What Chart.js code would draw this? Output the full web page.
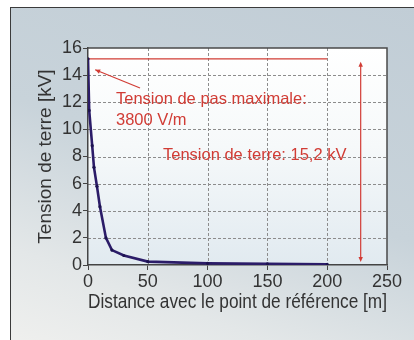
<!DOCTYPE html>
<html lang="fr">
<head>
<meta charset="utf-8">
<script src="https://cdn.jsdelivr.net/npm/chart.js@4.4.1/dist/chart.umd.min.js"></script>
<style>
  html, body { margin: 0; background: #fff; }
  #wrap { position: relative; width: 414px; height: 340px; overflow: hidden; }
  /* framed card behind the chart */
  #panel {
    position: absolute; left: 10px; top: 7px; width: 420px; height: 350px;
    border-left: 1.5px solid #3b3b3b; border-top: 1.5px solid #3b3b3b;
    background: linear-gradient(200deg, #c1cdd6 0%, #c8d3da 48%, #e3e7e8 78%, #f1f1ef 100%);
  }
  canvas { position: absolute; left: 0; top: 0; }
</style>
</head>
<body>
<div id="wrap">
  <div id="panel"></div>
  <canvas id="chart" width="414" height="340"></canvas>
</div>
<script>
/* ── data ─────────────────────────────────────────────────────────── */
const DISTANCE_M = [0, 1, 3.5, 5, 7.5, 10, 15, 20, 30, 50, 100, 150, 200];
const EARTH_KV   = [15.2, 11.4, 8.8, 7.2, 5.8, 4.3, 2.0, 1.1, 0.7, 0.25, 0.12, 0.08, 0.05];
const X_TICKS = [0, 50, 100, 150, 200, 250];
const Y_TICKS = [0, 2, 4, 6, 8, 10, 12, 14, 16];

const MAX_KV = 15.2;         // earth potential at the reference point
const STEP_V_PER_M = 3800;   // max step voltage
const REF_LINE_END_M = 200;  // horizontal 15,2 kV line runs to here
const SPAN_ARROW_M = 228;    // position of the double arrow

const RED = "#d13c35";
const INK = "#333";
const FONT = "'Liberation Sans', Arial, Helvetica, sans-serif";

/* ── helpers ──────────────────────────────────────────────────────── */
function arrowHead(ctx, tipX, tipY, fromX, fromY, len, half) {
  const a = Math.atan2(tipY - fromY, tipX - fromX);
  ctx.beginPath();
  ctx.moveTo(tipX, tipY);
  ctx.lineTo(tipX - len * Math.cos(a) + half * Math.sin(a), tipY - len * Math.sin(a) - half * Math.cos(a));
  ctx.lineTo(tipX - len * Math.cos(a) - half * Math.sin(a), tipY - len * Math.sin(a) + half * Math.cos(a));
  ctx.closePath();
  ctx.fill();
}

/* plot background (white fading to pale blue) with dashed grid */
const plotBg = {
  id: "plotBg",
  beforeDraw(chart) {
    const { ctx, chartArea: a, scales: { x, y } } = chart;
    const g = ctx.createLinearGradient(0, a.top, 0, a.bottom);
    g.addColorStop(0, "#ffffff");
    g.addColorStop(0.45, "#f6f9fa");
    g.addColorStop(1, "#e1eaf0");
    ctx.save();
    ctx.fillStyle = g;
    ctx.fillRect(a.left, a.top, a.right - a.left, a.bottom - a.top);

    ctx.strokeStyle = "#8c8c8c";
    ctx.lineWidth = 1;
    ctx.setLineDash([3, 2]);
    ctx.beginPath();
    x.ticks.forEach((t) => {
      if (t.value <= x.min || t.value >= x.max) return;
      const px = Math.round(x.getPixelForValue(t.value)) + 0.5;
      ctx.moveTo(px, a.top);
      ctx.lineTo(px, a.bottom);
    });
    y.ticks.forEach((t) => {
      if (t.value <= y.min || t.value >= y.max) return;
      const py = Math.round(y.getPixelForValue(t.value)) + 0.5;
      ctx.moveTo(a.left, py);
      ctx.lineTo(a.right, py);
    });
    ctx.stroke();
    ctx.restore();
  },
};

/* frame on top/right plus the red notes */
const notes = {
  id: "notes",
  afterDraw(chart) {
    const { ctx, chartArea: a, scales: { x, y } } = chart;
    ctx.save();

    ctx.strokeStyle = "#4a4a4a";
    ctx.lineWidth = 1.5;
    ctx.beginPath();
    ctx.moveTo(a.left, a.top);
    ctx.lineTo(a.right, a.top);
    ctx.lineTo(a.right, a.bottom);
    ctx.stroke();

    ctx.strokeStyle = RED;
    ctx.fillStyle = RED;
    ctx.lineWidth = 1.2;

    // double arrow spanning 0 … 15,2 kV
    const ax = x.getPixelForValue(SPAN_ARROW_M);
    const top = y.getPixelForValue(MAX_KV) + 3;
    const bot = y.getPixelForValue(0) - 3;
    ctx.beginPath();
    ctx.moveTo(ax, top + 4);
    ctx.lineTo(ax, bot - 4);
    ctx.stroke();
    arrowHead(ctx, ax, top, ax, bot, 5, 2.2);
    arrowHead(ctx, ax, bot, ax, top, 5, 2.2);

    // pointer from the step-voltage note to the steep start of the curve
    const tipX = x.getPixelForValue(6), tipY = y.getPixelForValue(14.4);
    const tailX = x.getPixelForValue(43.5), tailY = y.getPixelForValue(13.05);
    ctx.beginPath();
    ctx.moveTo(tailX, tailY);
    ctx.lineTo(tipX, tipY);
    ctx.stroke();
    arrowHead(ctx, tipX, tipY, tailX, tailY, 5, 2.2);

    ctx.font = "16.5px " + FONT;
    ctx.textAlign = "left";
    ctx.textBaseline = "alphabetic";
    ctx.fillText("Tension de pas maximale:", x.getPixelForValue(23.4), y.getPixelForValue(11.87));
    ctx.fillText(STEP_V_PER_M + " V/m", x.getPixelForValue(23.4), y.getPixelForValue(10.32));
    ctx.fillText("Tension de terre: " + String(MAX_KV).replace(".", ",") + " kV",
      x.getPixelForValue(62.7), y.getPixelForValue(7.74));

    ctx.restore();
  },
};

/* ── chart ────────────────────────────────────────────────────────── */
new Chart(document.getElementById("chart"), {
  type: "line",
  data: {
    datasets: [
      {
        label: "Tension de terre",
        data: DISTANCE_M.map((d, i) => ({ x: d, y: EARTH_KV[i] })),
        borderColor: "#2b1c68",
        borderWidth: 2.6,
        pointRadius: 1.6,
        pointBackgroundColor: "#1c1250",
        pointBorderWidth: 0,
        tension: 0,
        order: 0,
      },
      {
        label: "15,2 kV",
        data: [{ x: 0, y: MAX_KV }, { x: REF_LINE_END_M, y: MAX_KV }],
        borderColor: RED,
        borderWidth: 1.3,
        pointRadius: 0,
        order: 1,
      },
    ],
  },
  options: {
    responsive: false,
    animation: false,
    devicePixelRatio: 1,
    layout: { padding: { top: 48, right: 27, left: 0, bottom: 0 } },
    plugins: { legend: { display: false }, tooltip: { enabled: false } },
    scales: {
      x: {
        type: "linear",
        min: 0,
        max: 250,
        afterBuildTicks: (s) => { s.ticks = X_TICKS.map((v) => ({ value: v })); },
        afterFit: (s) => { s.height = 75; },
        ticks: { color: INK, font: { family: FONT, size: 18 }, padding: 1, maxRotation: 0, autoSkip: false },
        grid: { drawOnChartArea: false, color: "#444", tickLength: 5, lineWidth: 1 },
        border: { color: "#444", width: 1.5 },
        title: {
          display: true,
          text: "Distance avec le point de référence [m]",
          color: INK,
          font: { family: FONT, size: 19.3 },
          padding: { top: 0, bottom: 26 },
        },
      },
      y: {
        min: 0,
        max: 16,
        afterBuildTicks: (s) => { s.ticks = Y_TICKS.map((v) => ({ value: v })); },
        afterFit: (s) => { s.width = 88; },
        ticks: { color: INK, font: { family: FONT, size: 18 }, padding: 1, autoSkip: false },
        grid: { drawOnChartArea: false, color: "#444", tickLength: 5, lineWidth: 1 },
        border: { color: "#444", width: 1.5 },
        title: {
          display: true,
          text: "Tension de terre [kV]",
          color: INK,
          font: { family: FONT, size: 19 },
          padding: { top: 34, bottom: 0 },
        },
      },
    },
  },
  plugins: [plotBg, notes],
});
</script>
</body>
</html>
